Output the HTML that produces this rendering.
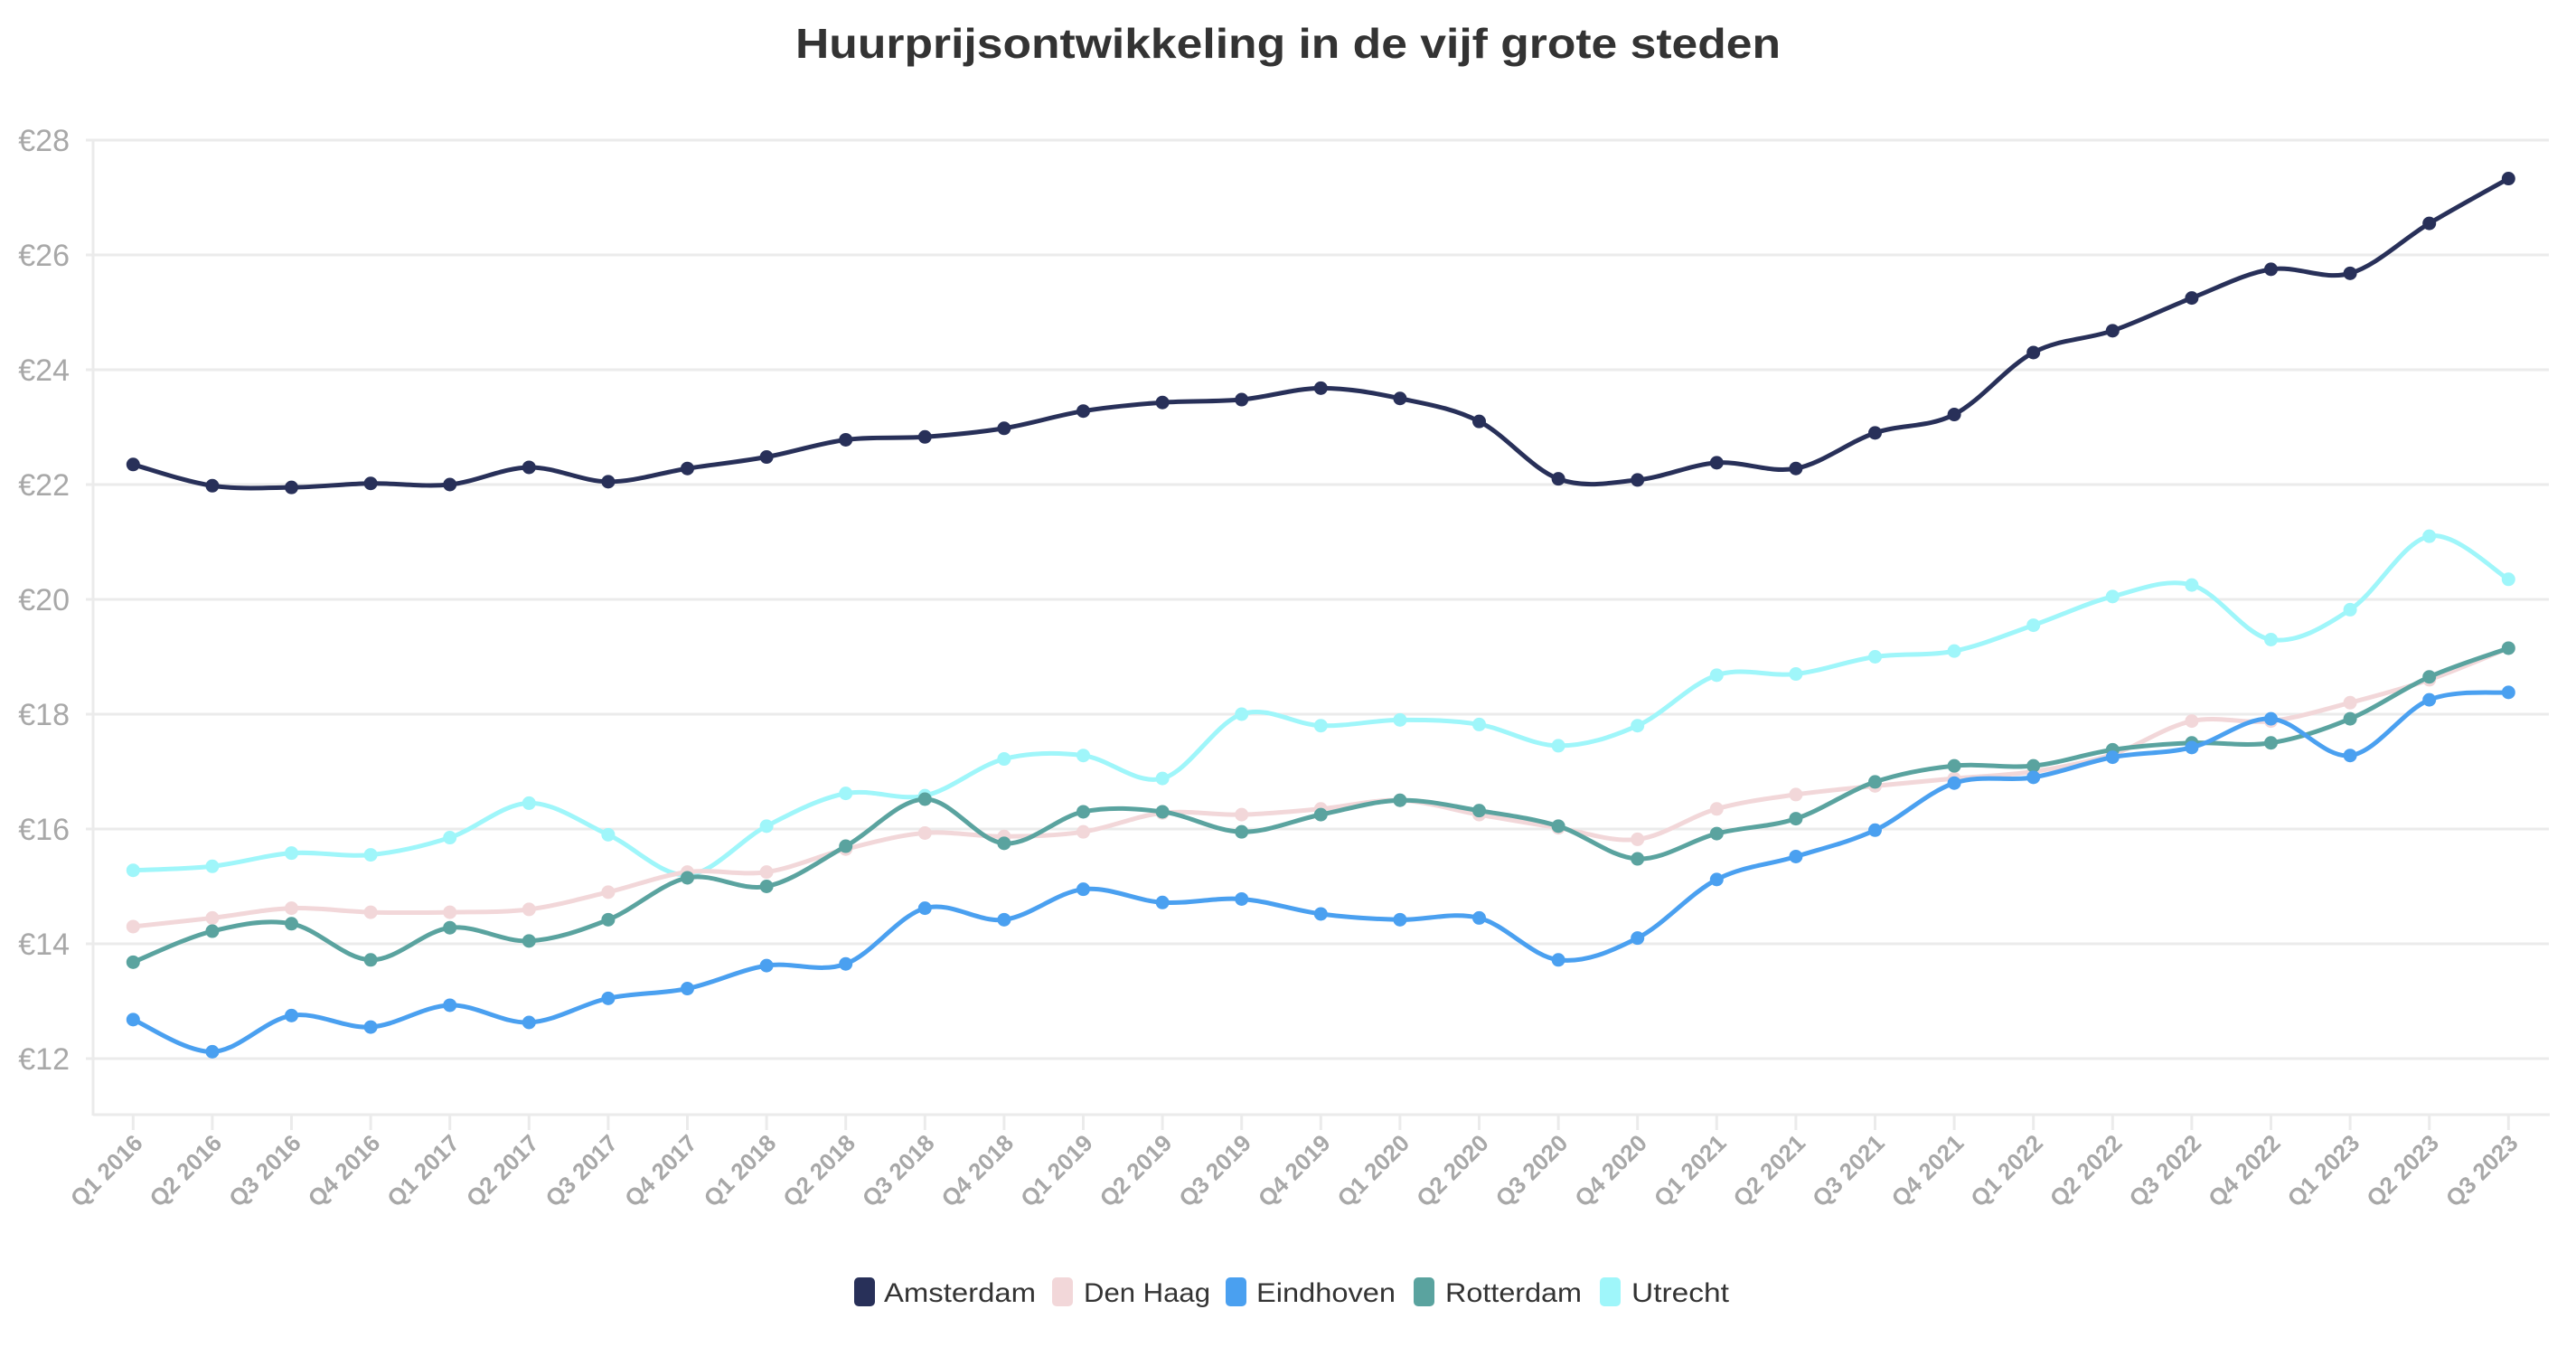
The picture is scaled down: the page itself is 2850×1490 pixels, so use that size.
<!DOCTYPE html>
<html><head><meta charset="utf-8"><style>
html,body{margin:0;padding:0;background:#fff;}
svg{display:block;}
</style></head><body>
<svg id="c" width="2850" height="1490" xmlns="http://www.w3.org/2000/svg" font-family="Liberation Sans, sans-serif">
<text x="1425" y="64" text-anchor="middle" font-size="46" font-weight="bold" fill="#333" textLength="1090" lengthAdjust="spacingAndGlyphs">Huurprijsontwikkeling in de vijf grote steden</text>
<g id="grid"></g>
<g id="series"></g>
<g font-size="30" fill="#333">
<rect x="945" y="1413" width="23" height="32" rx="5" fill="#283059"/><text x="978" y="1440" textLength="168" lengthAdjust="spacingAndGlyphs">Amsterdam</text>
<rect x="1164" y="1413" width="23" height="32" rx="5" fill="#f2d7d9"/><text x="1199" y="1440" textLength="140" lengthAdjust="spacingAndGlyphs">Den Haag</text>
<rect x="1356" y="1413" width="23" height="32" rx="5" fill="#4aa0f0"/><text x="1390" y="1440" textLength="154" lengthAdjust="spacingAndGlyphs">Eindhoven</text>
<rect x="1564" y="1413" width="23" height="32" rx="5" fill="#5aa39f"/><text x="1599" y="1440" textLength="151" lengthAdjust="spacingAndGlyphs">Rotterdam</text>
<rect x="1770" y="1413" width="23" height="32" rx="5" fill="#9ff6fa"/><text x="1805" y="1440" textLength="108" lengthAdjust="spacingAndGlyphs">Utrecht</text>
</g>
</svg>
<script>
var NS="http://www.w3.org/2000/svg";
function el(t,a,p,txt){var e=document.createElementNS(NS,t);for(var k in a)e.setAttribute(k,a[k]);if(txt!==undefined)e.textContent=txt;p.appendChild(e);return e;}
var g=document.getElementById('grid'),s=document.getElementById('series');
function Y(v){return 155+(28-v)*63.5;}
function X(i){return 147.3+i*87.6;}
for(var v=12;v<=28;v+=2){
  el('line',{x1:95,x2:2820,y1:Y(v),y2:Y(v),stroke:'#ebebeb','stroke-width':3},g);
  el('text',{x:77,y:Y(v)+12,'text-anchor':'end','font-size':34,fill:'#a8a8a8'},g,'€'+v);
}
el('line',{x1:103,x2:103,y1:155,y2:1234,stroke:'#ebebeb','stroke-width':3},g);
el('line',{x1:103,x2:2821,y1:1233,y2:1233,stroke:'#ebebeb','stroke-width':3},g);
var labels=[];
for(var yr=2016;yr<=2023;yr++)for(var q=1;q<=4;q++){if(yr==2023&&q==4)break;labels.push('Q'+q+' '+yr);}
labels.forEach(function(l,i){
  var x=X(i);
  el('line',{x1:x,x2:x,y1:1233,y2:1250,stroke:'#ebebeb','stroke-width':3},g);
  el('text',{x:x+12,y:1266,'text-anchor':'end','font-size':26,'font-weight':'bold',fill:'#a8a8a8',transform:'rotate(-45 '+(x+12)+' 1266)'},g,l);
});
var data=[
['#9ff6fa',[15.28,15.35,15.58,15.55,15.85,16.45,15.9,15.2,16.05,16.62,16.58,17.22,17.28,16.88,18.0,17.8,17.9,17.82,17.45,17.8,18.68,18.7,19.0,19.1,19.55,20.05,20.25,19.3,19.82,21.1,20.35]],
['#f2d7d9',[14.3,14.45,14.62,14.55,14.55,14.6,14.9,15.25,15.25,15.65,15.93,15.87,15.95,16.28,16.25,16.35,16.5,16.25,16.02,15.82,16.35,16.6,16.75,16.88,17.0,17.3,17.88,17.88,18.2,18.6,19.15]],
['#5aa39f',[13.68,14.22,14.35,13.72,14.28,14.05,14.42,15.15,15.0,15.7,16.52,15.75,16.3,16.3,15.95,16.25,16.5,16.32,16.05,15.48,15.92,16.18,16.82,17.1,17.1,17.38,17.5,17.5,17.92,18.65,19.15]],
['#4aa0f0',[12.68,12.12,12.75,12.55,12.93,12.63,13.05,13.22,13.62,13.65,14.62,14.42,14.95,14.72,14.78,14.52,14.42,14.45,13.72,14.1,15.12,15.52,15.98,16.8,16.9,17.25,17.42,17.92,17.28,18.25,18.38]],
['#283059',[22.35,21.98,21.95,22.02,22.0,22.3,22.05,22.28,22.48,22.78,22.83,22.98,23.28,23.43,23.48,23.68,23.5,23.1,22.1,22.08,22.38,22.28,22.9,23.22,24.3,24.68,25.25,25.75,25.68,26.55,27.33]]
];
data.forEach(function(d){
  var p=d[1].map(function(v,i){return [X(i),Y(v)];});
  var path='M'+p[0][0]+','+p[0][1];
  for(var i=0;i<p.length-1;i++){
    var p0=p[Math.max(i-1,0)],p1=p[i],p2=p[i+1],p3=p[Math.min(i+2,p.length-1)];
    var t=1/6;
    var c1=[p1[0]+(p2[0]-p0[0])*t,p1[1]+(p2[1]-p0[1])*t];
    var c2=[p2[0]-(p3[0]-p1[0])*t,p2[1]-(p3[1]-p1[1])*t];
    path+=' C'+c1[0]+','+c1[1]+' '+c2[0]+','+c2[1]+' '+p2[0]+','+p2[1];
  }
  el('path',{d:path,fill:'none',stroke:d[0],'stroke-width':5,'stroke-linejoin':'round'},s);
  p.forEach(function(q){el('circle',{cx:q[0],cy:q[1],r:7.5,fill:d[0]},s);});
});
</script>
</body></html>
